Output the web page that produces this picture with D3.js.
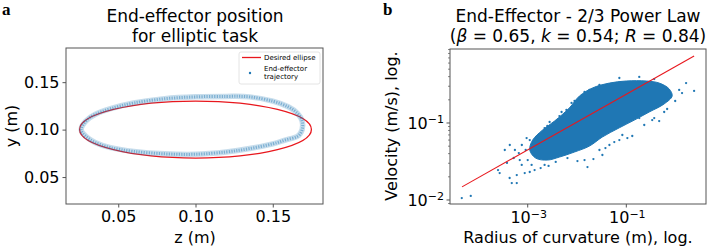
<!DOCTYPE html>
<html>
<head>
<meta charset="utf-8">
<script src="https://cdn.jsdelivr.net/npm/d3@7"></script>
<style>
  body { margin: 0; background: #fff; }
  text { font-family: "DejaVu Sans", sans-serif; fill: #000; }
</style>
</head>
<body>
<div id="chart"></div>
<script>
// Panel a: desired ellipse (center z, center y, semi-axis z, semi-axis y)
const desiredEllipse = [0.100, 0.100, 0.075, 0.030];

// Panel a: end-effector trajectory, read along the band (z, y)
const trajZ = [0.026, 0.029, 0.035, 0.045, 0.060, 0.080, 0.100, 0.120, 0.135, 0.150, 0.160, 0.166, 0.169,
               0.169, 0.166, 0.158, 0.150, 0.135, 0.120, 0.100, 0.080, 0.060, 0.045, 0.035, 0.029];
const trajY = [0.100, 0.109, 0.116, 0.122, 0.128, 0.1325, 0.1345, 0.1350, 0.1345, 0.130, 0.124, 0.117, 0.109,
               0.100, 0.093, 0.089, 0.085, 0.080, 0.0765, 0.0740, 0.0745, 0.0770, 0.0810, 0.0865, 0.093];

const aTicks = [0.05, 0.10, 0.15];

// Panel b: outline of the dense part of the scatter cloud (radius, velocity)
const cloudR = [2.0e-3, 3.5e-3, 7.0e-3, 0.0112, 0.0206, 0.0454, 0.1, 0.254, 0.464, 0.74, 0.85, 0.586,
                0.292, 0.145, 0.0722, 0.0327, 0.0179, 8.9e-3, 4.4e-3, 2.5e-3, 1.45e-3, 1.1e-3, 1.26e-3];
const cloudV = [0.081, 0.106, 0.157, 0.224, 0.285, 0.330, 0.351, 0.351, 0.330, 0.277, 0.224, 0.177,
                0.139, 0.109, 0.0867, 0.0658, 0.0502, 0.042, 0.0361, 0.033, 0.035, 0.0446, 0.060];

// Panel b: sparse points around the cloud
const sparseR = [4.6e-5, 7.0e-5, 2.5e-4, 2.7e-4, 4.3e-4, 4.75e-4, 6.0e-4, 6.0e-4, 8.7e-4, 1.1e-3, 6.9e-4, 3.8e-4,
                 5.5e-4, 7.6e-4, 9.5e-4, 0.0102, 0.0215, 0.0163, 0.105, 0.132, 0.083, 0.057, 0.0377, 1.18,
                 1.63, 2.37, 1.35, 0.183, 0.335, 0.464, 0.98, 0.673, 4.4e-3, 6.1e-3, 8.9e-3, 0.0142,
                 2.5e-3, 1.6e-3, 2.2e-3, 3.7e-3, 6.4e-3, 0.0285, 0.0722, 0.183, 0.368,
                 3.43e-4, 4.33e-4, 5.21e-4, 7.56e-4, 1.0e-3, 1.2e-3, 1.38e-3, 9.1e-4, 6.6e-4, 1.1e-3,
                 1.83e-3, 2.65e-3, 0.0285, 0.0454, 0.0722, 0.231, 0.368, 0.586, 0.0327, 0.0142,
                 2.78e-3, 2.2e-3, 4.86e-3, 7.74e-3, 0.0179, 0.036];
const sparseV = [0.0106, 0.0113, 0.0245, 0.0224, 0.0193, 0.0166, 0.0166, 0.0211, 0.0224, 0.0231, 0.033, 0.0303,
                 0.0446, 0.0518, 0.0638, 0.032, 0.034, 0.0268, 0.0638, 0.0678, 0.0698, 0.0566, 0.0473, 0.269,
                 0.330, 0.261, 0.245, 0.116, 0.109, 0.106, 0.193, 0.152, 0.123, 0.148, 0.193, 0.253,
                 0.0914, 0.0638, 0.0285, 0.0312, 0.035, 0.312, 0.384, 0.396, 0.372,
                 0.0446, 0.0518, 0.0351, 0.0285, 0.033, 0.0285, 0.0245, 0.0446, 0.0407, 0.060,
                 0.026, 0.0277, 0.0446, 0.0518, 0.060, 0.0942, 0.116, 0.139, 0.0384, 0.033,
                 0.103, 0.086, 0.139, 0.182, 0.269, 0.303];

// Panel b: fitted power law line end points
const fitR = [4.65e-5, 2.37];
const fitV = [0.0148, 0.741];

const bXTicks = [1e-3, 1e-1];
const bYTicks = [1e-2, 1e-1];

const blue = "#1f77b4";
const red = "#e8171d";
const spine = "#555";
const tickFont = "16px";
const labelFont = "16px";
const titleFont = "17px";

const svg = d3.select("#chart").append("svg")
    .attr("width", 708)
    .attr("height", 250);

// ---------- panel a ----------
const xa = d3.scaleLinear().domain([0.0162, 0.1825]).range([66, 323]);
const ya = d3.scaleLinear().domain([0.0216, 0.186]).range([204, 48]);

const ga = svg.append("g");

// desired ellipse
ga.append("ellipse")
    .attr("cx", xa(desiredEllipse[0]))
    .attr("cy", ya(desiredEllipse[1]))
    .attr("rx", xa(desiredEllipse[0] + desiredEllipse[2]) - xa(desiredEllipse[0]))
    .attr("ry", ya(desiredEllipse[1]) - ya(desiredEllipse[1] + desiredEllipse[3]))
    .attr("fill", "none")
    .attr("stroke", red)
    .attr("stroke-width", 1.3);

// trajectory band
const traj = trajZ.map((z, i) => [z, trajY[i]]);
const trajLine = d3.line()
    .x(d => xa(d[0]))
    .y(d => ya(d[1]))
    .curve(d3.curveCardinalClosed);

ga.append("path")
    .attr("d", trajLine(traj))
    .attr("fill", "none")
    .attr("stroke", blue)
    .attr("stroke-opacity", 0.25)
    .attr("stroke-width", 5.5);
ga.append("path")
    .attr("d", trajLine(traj))
    .attr("fill", "none")
    .attr("stroke", blue)
    .attr("stroke-opacity", 0.45)
    .attr("stroke-width", 3)
    .attr("stroke-dasharray", "1.2,1.3");

// axes
ga.append("rect")
    .attr("x", 66).attr("y", 48).attr("width", 257).attr("height", 156)
    .attr("fill", "none").attr("stroke", spine).attr("stroke-width", 1);

ga.append("g")
    .attr("transform", "translate(0,204)")
    .call(d3.axisBottom(xa).tickValues(aTicks).tickFormat(d3.format(".2f")).tickSize(3.5).tickPadding(3))
    .call(g => g.select(".domain").remove())
    .call(g => g.selectAll("line").attr("stroke", spine))
    .call(g => g.selectAll("text").style("font-size", tickFont).style("font-family", "DejaVu Sans"));

ga.append("g")
    .attr("transform", "translate(66,0)")
    .call(d3.axisLeft(ya).tickValues(aTicks).tickFormat(d3.format(".2f")).tickSize(3.5).tickPadding(3))
    .call(g => g.select(".domain").remove())
    .call(g => g.selectAll("line").attr("stroke", spine))
    .call(g => g.selectAll("text").style("font-size", tickFont).style("font-family", "DejaVu Sans"));

ga.append("text").attr("x", 195).attr("y", 21.5).attr("text-anchor", "middle")
    .style("font-size", titleFont).text("End-effector position");
ga.append("text").attr("x", 195).attr("y", 41.5).attr("text-anchor", "middle")
    .style("font-size", titleFont).text("for elliptic task");

ga.append("text").attr("x", 195).attr("y", 243).attr("text-anchor", "middle")
    .style("font-size", labelFont).text("z (m)");
ga.append("text").attr("transform", "translate(17,126) rotate(-90)").attr("text-anchor", "middle")
    .style("font-size", labelFont).text("y (m)");

ga.append("text").attr("x", 2).attr("y", 15)
    .style("font-family", "Liberation Serif").style("font-weight", "bold").style("font-size", "17px")
    .text("a");

// legend
const leg = ga.append("g");
leg.append("rect")
    .attr("x", 239).attr("y", 52).attr("width", 81).attr("height", 32).attr("rx", 2)
    .attr("fill", "#fff").attr("fill-opacity", 0.8).attr("stroke", "#ddd").attr("stroke-width", 0.8);
leg.append("line")
    .attr("x1", 242).attr("x2", 261).attr("y1", 57.5).attr("y2", 57.5)
    .attr("stroke", red).attr("stroke-width", 1.3);
leg.append("text").attr("x", 264).attr("y", 60).style("font-size", "7px").text("Desired ellipse");
leg.append("circle").attr("cx", 250).attr("cy", 73).attr("r", 1.2).attr("fill", blue);
leg.append("text").attr("x", 264).attr("y", 70.5).style("font-size", "7px").text("End-effector");
leg.append("text").attr("x", 264).attr("y", 79).style("font-size", "7px").text("trajectory");

// ---------- panel b ----------
const xb = d3.scaleLog().domain([Math.pow(10, -4.576), Math.pow(10, 0.616)]).range([450, 706]);
const yb = d3.scaleLog().domain([Math.pow(10, -2.052), Math.pow(10, -0.039)]).range([204, 49]);

const gb = svg.append("g");

const cloud = cloudR.map((r, i) => [r, cloudV[i]]);
gb.append("path")
    .attr("d", d3.line().x(d => xb(d[0])).y(d => yb(d[1])).curve(d3.curveCatmullRomClosed)(cloud))
    .attr("fill", blue)
    .attr("stroke", blue)
    .attr("stroke-width", 1);

gb.append("g")
    .selectAll("circle")
    .data(sparseR.map((r, i) => [r, sparseV[i]]))
    .enter().append("circle")
    .attr("cx", d => xb(d[0]))
    .attr("cy", d => yb(d[1]))
    .attr("r", 1.15)
    .attr("fill", blue);

gb.append("line")
    .attr("x1", xb(fitR[0])).attr("y1", yb(fitV[0]))
    .attr("x2", xb(fitR[1])).attr("y2", yb(fitV[1]))
    .attr("stroke", red).attr("stroke-width", 1.1);

gb.append("rect")
    .attr("x", 450).attr("y", 49).attr("width", 256).attr("height", 155)
    .attr("fill", "none").attr("stroke", spine).attr("stroke-width", 1);

// log tick label: 10 with superscript exponent
function powLabel(sel, v) {
    const e = Math.round(Math.log10(v));
    sel.text("10");
    sel.append("tspan").attr("dy", "-0.5em").style("font-size", "11px").text("\u2212" + Math.abs(e));
}

const xAx = gb.append("g").attr("transform", "translate(0,204)");
xAx.selectAll("line").data(bXTicks).enter().append("line")
    .attr("x1", d => xb(d)).attr("x2", d => xb(d)).attr("y1", 0).attr("y2", 3.5)
    .attr("stroke", spine);
xAx.selectAll("text").data(bXTicks).enter().append("text")
    .attr("x", d => xb(d) + 1).attr("y", 19)
    .attr("text-anchor", "middle")
    .style("font-size", tickFont)
    .each(function(d) { powLabel(d3.select(this), d); });

// minor ticks on the velocity axis
const minorY = [];
[1e-3, 1e-2, 1e-1].forEach(dec => {
    for (let m = 2; m <= 9; m++) {
        const v = dec * m;
        if (v > yb.domain()[0] && v < yb.domain()[1]) minorY.push(v);
    }
});
const yAx = gb.append("g").attr("transform", "translate(450,0)");
yAx.selectAll("line.minor").data(minorY).enter().append("line")
    .attr("class", "minor")
    .attr("x1", -2).attr("x2", 0).attr("y1", d => yb(d)).attr("y2", d => yb(d))
    .attr("stroke", spine).attr("stroke-width", 0.7);
yAx.selectAll("line.major").data(bYTicks).enter().append("line")
    .attr("class", "major")
    .attr("x1", -3.5).attr("x2", 0).attr("y1", d => yb(d)).attr("y2", d => yb(d))
    .attr("stroke", spine);
yAx.selectAll("text").data(bYTicks).enter().append("text")
    .attr("x", -6).attr("y", d => yb(d) + 6)
    .attr("text-anchor", "end")
    .style("font-size", tickFont)
    .each(function(d) { powLabel(d3.select(this), d); });

gb.append("text").attr("x", 578).attr("y", 21.5).attr("text-anchor", "middle")
    .style("font-size", titleFont).text("End-Effector - 2/3 Power Law");
const t2 = gb.append("text").attr("x", 578).attr("y", 41.5).attr("text-anchor", "middle")
    .style("font-size", titleFont);
t2.append("tspan").text("(");
t2.append("tspan").style("font-style", "italic").text("\u03b2");
t2.append("tspan").text(" = 0.65, ");
t2.append("tspan").style("font-style", "italic").text("k");
t2.append("tspan").text(" = 0.54; ");
t2.append("tspan").style("font-style", "italic").text("R");
t2.append("tspan").text(" = 0.84)");

gb.append("text").attr("x", 578).attr("y", 243).attr("text-anchor", "middle")
    .style("font-size", labelFont).text("Radius of curvature (m), log.");
gb.append("text").attr("transform", "translate(397,126) rotate(-90)").attr("text-anchor", "middle")
    .style("font-size", labelFont).text("Velocity (m/s), log.");

gb.append("text").attr("x", 383).attr("y", 15)
    .style("font-family", "Liberation Serif").style("font-weight", "bold").style("font-size", "17px")
    .text("b");
</script>
</body>
</html>
